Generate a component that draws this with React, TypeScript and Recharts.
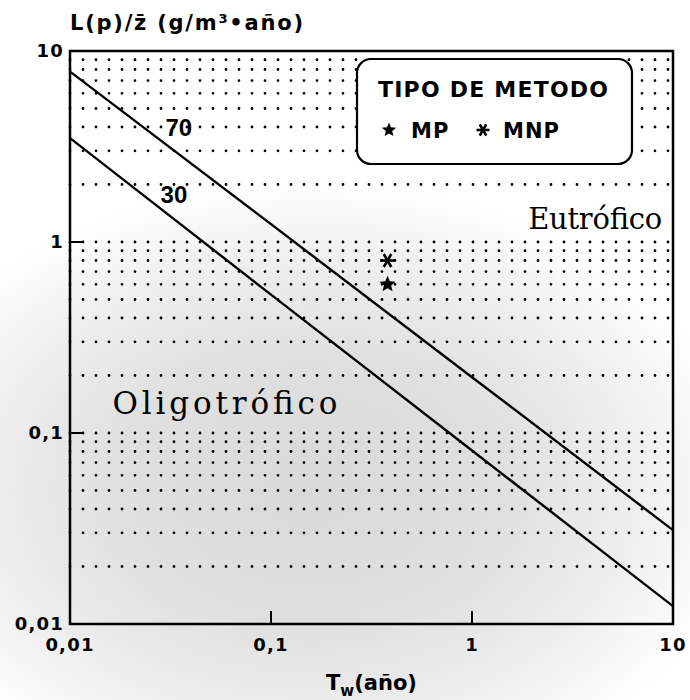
import React from "react";
import {
  ComposedChart,
  Line,
  Scatter,
  XAxis,
  YAxis,
  ReferenceLine,
  ReferenceArea,
  ReferenceDot,
} from "recharts";

// axis ticks (log scale, decimal comma as in the original)
const X_TICKS = [0.01, 0.1, 1, 10];
const Y_TICKS = [0.01, 0.1, 1, 10];
const TICK_TEXT: Record<string, string> = { "0.01": "0,01", "0.1": "0,1", "1": "1", "10": "10" };

// dotted rows = minor log grid
const GRID_ROWS = [
  0.02, 0.03, 0.04, 0.05, 0.06, 0.07, 0.08, 0.09,
  0.1, 0.2, 0.3, 0.4, 0.5, 0.6, 0.7, 0.8, 0.9,
  1, 2, 3, 4, 5, 6, 7, 8, 9,
];

// critical loading lines (tw = residence time, lp = L(p)/z)
const LINE_70 = [
  { tw: 0.01, lp: 7.8 },
  { tw: 0.1, lp: 1.24 },
  { tw: 1, lp: 0.196 },
  { tw: 10, lp: 0.031 },
];
const LINE_30 = [
  { tw: 0.01, lp: 3.5 },
  { tw: 0.1, lp: 0.53 },
  { tw: 1, lp: 0.081 },
  { tw: 10, lp: 0.0124 },
];

// measured points
const MP = [{ tw: 0.38, lp: 0.6 }];
const MNP = [{ tw: 0.38, lp: 0.8 }];

// text annotations anchored in data space
const LINE_LABELS = [
  { tw: 0.0348, lp: 4.0, text: "70" },
  { tw: 0.0329, lp: 1.78, text: "30" },
];
const ZONE_LABELS = [
  { tw: 4.1, lp: 1.32, text: "Eutrófico", width: 134, size: 29 },
  { tw: 0.059, lp: 0.1436, text: "Oligotrófico", width: 225, size: 31 },
];

const SANS = "DejaVu Sans";
const SERIF = "DejaVu Serif";

const StarShape = ({ cx, cy, size = 8.5 }: any) => {
  const pts: string[] = [];
  for (let i = 0; i < 10; i++) {
    const r = i % 2 === 0 ? size : size * 0.45;
    const a = -Math.PI / 2 + (i * Math.PI) / 5;
    pts.push(`${cx + r * Math.cos(a)},${cy + r * Math.sin(a)}`);
  }
  return <polygon points={pts.join(" ")} fill="#000" />;
};

const AsteriskShape = ({ cx, cy, size = 7.5 }: any) => (
  <g>
    {[0, 60, 120].map((d) => {
      const a = (d * Math.PI) / 180;
      return (
        <line
          key={d}
          x1={cx - size * Math.cos(a)}
          y1={cy - size * Math.sin(a)}
          x2={cx + size * Math.cos(a)}
          y2={cy + size * Math.sin(a)}
          stroke="#000"
          strokeWidth={2.6}
        />
      );
    })}
  </g>
);

const YTick = ({ x, y, payload }: any) => (
  <g>
    <line x1={x} y1={y} x2={x + 13} y2={y} stroke="#000" strokeWidth={2} />
    <text
      x={x - 6}
      y={y}
      dy="0.36em"
      textAnchor="end"
      fontFamily={SANS}
      fontWeight="bold"
      fontSize={18}
      letterSpacing={1.2}
      fill="#000"
    >
      {TICK_TEXT[String(payload.value)]}
    </text>
  </g>
);

const XTick = ({ x, y, payload }: any) => (
  <g>
    <line x1={x} y1={y} x2={x} y2={y - 13} stroke="#000" strokeWidth={2} />
    <text
      x={x}
      y={y + 27}
      textAnchor="middle"
      fontFamily={SANS}
      fontWeight="bold"
      fontSize={18}
      letterSpacing={1.2}
      fill="#000"
    >
      {TICK_TEXT[String(payload.value)]}
    </text>
  </g>
);

export default function App() {
  return (
    <div style={{ position: "absolute", left: 0, top: 0, width: 690, height: 700, background: "#fff" }}>
      {/* stipple shading of the scan */}
      <div
        style={{
          position: "absolute",
          left: 0,
          top: 0,
          width: 690,
          height: 700,
          background:
            "radial-gradient(ellipse 440px 310px at 310px 490px, #d9d9d9 0%, #e0e0e0 45%, #efefef 75%, #ffffff 100%)",
        }}
      />
      <div style={{ position: "absolute", left: 0, top: 0 }}>
        <ComposedChart width={690} height={700} margin={{ top: 51, right: 17, bottom: 46, left: 0 }}>
          <XAxis
            dataKey="tw"
            type="number"
            scale="log"
            domain={[0.01, 10]}
            allowDataOverflow
            ticks={X_TICKS}
            height={30}
            axisLine={false}
            tickLine={false}
            tickSize={0}
            tickMargin={0}
            tick={<XTick />}
          />
          <YAxis
            dataKey="lp"
            type="number"
            scale="log"
            domain={[0.01, 10]}
            allowDataOverflow
            ticks={Y_TICKS}
            width={70}
            axisLine={false}
            tickLine={false}
            tickSize={0}
            tickMargin={0}
            tick={<YTick />}
          />
          {GRID_ROWS.map((v) => (
            <ReferenceLine
              key={v}
              y={v}
              stroke="#000"
              strokeWidth={2.8}
              strokeDasharray="0 13"
              strokeLinecap="round"
            />
          ))}
          <Line data={LINE_70} dataKey="lp" type="linear" stroke="#000" strokeWidth={2.4} dot={false} isAnimationActive={false} />
          <Line data={LINE_30} dataKey="lp" type="linear" stroke="#000" strokeWidth={2.4} dot={false} isAnimationActive={false} />
          <Scatter data={MP} dataKey="lp" shape={(p: any) => <StarShape cx={p.cx} cy={p.cy} />} isAnimationActive={false} />
          <Scatter data={MNP} dataKey="lp" shape={(p: any) => <AsteriskShape cx={p.cx} cy={p.cy} />} isAnimationActive={false} />
          {LINE_LABELS.map((l) => (
            <ReferenceDot
              key={l.text}
              x={l.tw}
              y={l.lp}
              shape={(p: any) => (
                <text
                  x={p.cx}
                  y={p.cy}
                  dy="0.36em"
                  textAnchor="middle"
                  fontFamily="Liberation Sans"
                  fontWeight="bold"
                  fontSize={24}
                  fill="#000"
                >
                  {l.text}
                </text>
              )}
            />
          ))}
          {ZONE_LABELS.map((l) => (
            <ReferenceDot
              key={l.text}
              x={l.tw}
              y={l.lp}
              shape={(p: any) => (
                <text
                  x={p.cx - l.width / 2}
                  y={p.cy}
                  dy="0.36em"
                  textLength={l.width}
                  lengthAdjust="spacing"
                  fontFamily={SERIF}
                  fontSize={l.size}
                  fill="#000"
                >
                  {l.text}
                </text>
              )}
            />
          ))}
          <ReferenceArea x1={0.01} x2={10} y1={0.01} y2={10} fill="none" stroke="#000" strokeWidth={2.5} />
        </ComposedChart>
      </div>
      {/* axis titles and legend */}
      <svg width={690} height={700} style={{ position: "absolute", left: 0, top: 0, pointerEvents: "none" }}>
        <text x={70} y={30} fontFamily={SANS} fontWeight="bold" fontSize={21} textLength={233} lengthAdjust="spacing" fill="#000">
          L(p)/z̄ (g/m³•año)
        </text>
        <text x={326} y={690} fontFamily={SANS} fontWeight="bold" fontSize={21} fill="#000">
          T
          <tspan dy={6} fontSize={15}>w</tspan>
          <tspan dy={-6}>(año)</tspan>
        </text>
        <rect x={357} y={59} width={275} height={105} rx={14} ry={14} fill="#fff" stroke="#000" strokeWidth={2.2} />
        <text x={378} y={97} fontFamily={SANS} fontWeight="bold" fontSize={22} textLength={230} lengthAdjust="spacing" fill="#000">
          TIPO DE METODO
        </text>
        <StarShape cx={389} cy={130} size={7.5} />
        <text x={411} y={138} fontFamily={SANS} fontWeight="bold" fontSize={21} letterSpacing={1} fill="#000">
          MP
        </text>
        <AsteriskShape cx={483} cy={130} size={6.5} />
        <text x={503} y={138} fontFamily={SANS} fontWeight="bold" fontSize={21} letterSpacing={1} fill="#000">
          MNP
        </text>
      </svg>
    </div>
  );
}
